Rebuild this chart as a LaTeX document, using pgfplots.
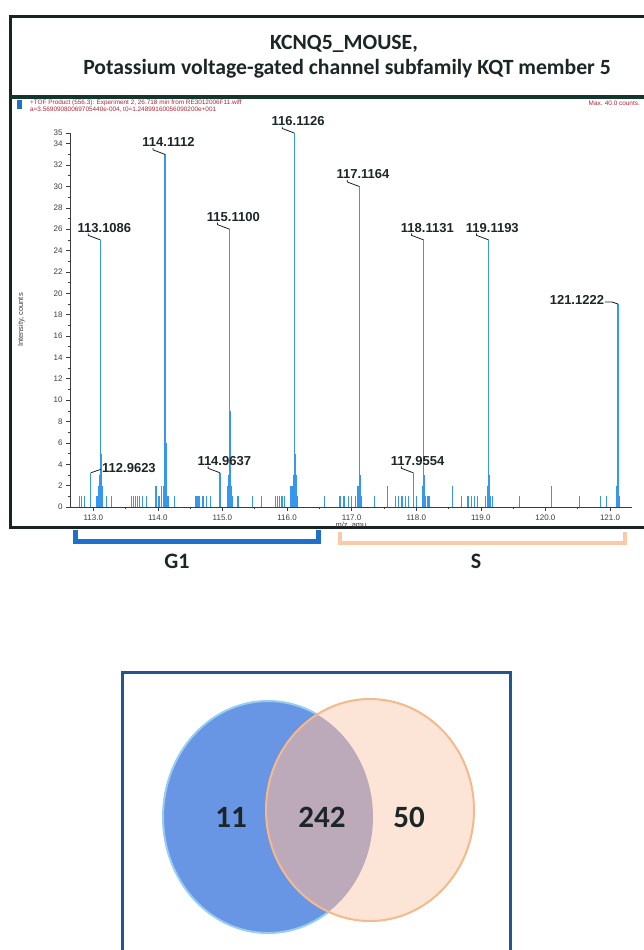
\documentclass[border=0pt]{standalone}
\usepackage{fontspec}
\setmainfont{Liberation Sans}
\newfontfamily\calibri{Carlito}
\usepackage{pgfplots}
\pgfplotsset{compat=1.18}
\usepackage{pgfplotstable}

\definecolor{specblue}{RGB}{55,150,238}
\definecolor{framedark}{RGB}{25,35,35}
\definecolor{sepgreen}{RGB}{20,55,45}
\definecolor{gone}{RGB}{30,112,200}
\definecolor{sbrk}{RGB}{248,202,168}
\definecolor{vennbox}{RGB}{35,85,145}
\definecolor{vblue}{RGB}{105,150,228}
\definecolor{vblueline}{RGB}{150,205,240}
\definecolor{vorange}{RGB}{252,229,214}
\definecolor{vorangeline}{RGB}{245,185,140}
\definecolor{voverlap}{RGB}{188,170,186}
\definecolor{redtxt}{RGB}{175,35,55}
\definecolor{txtdark}{RGB}{28,38,38}
\definecolor{tickgray}{RGB}{60,60,60}

\pgfplotstableread{
mz int
112.79 1
112.82 1
112.86 1
112.9623 3.2
113.06 1
113.08 2
113.095 3
113.1086 25
113.12 5
113.135 2
113.20 1
113.28 1
113.59 1
113.62 1
113.65 1
113.68 1
113.72 1
113.76 1
113.82 1
113.97 2
114.02 1
114.06 2
114.09 2
114.1112 33
114.125 6
114.14 1
114.16 1
114.26 1
114.59 1
114.62 1
114.65 1
114.70 1
114.75 1
114.82 1
114.9637 3.2
115.08 2
115.095 3
115.11 26
115.125 9
115.14 2
115.16 1
115.24 1
115.46 1
115.60 1
115.82 1
115.85 1
115.88 1
115.92 1
115.96 1
116.06 2
116.08 2
116.095 3
116.1126 35
116.125 5
116.14 3
116.16 1
116.58 1
116.82 1
116.88 1
116.95 1
117.00 1
117.06 1
117.10 2
117.1164 30
117.13 3
117.145 1
117.35 1
117.56 2
117.68 1
117.73 1
117.78 1
117.83 1
117.88 1
117.9554 3.2
118.00 1
118.10 2
118.1131 25
118.125 3
118.14 1
118.18 1
118.20 1
118.56 2
118.70 1
118.80 1
118.85 1
118.90 1
118.95 1
119.07 1
119.10 2
119.1193 25
119.13 3
119.15 1
119.18 1
119.60 1
120.09 2
120.53 1
120.85 1
120.94 1
121.10 1
121.11 2
121.1222 19
121.135 3
121.15 1
}\spectrum

\newcommand\peakfont{\bfseries\fontsize{13}{15}\selectfont}
\newcommand\hooklabel[3]{%
  \draw[framedark, line width=0.8pt] (axis cs:#1,#2) -- ++(-12pt,4.5pt) -- ++(0pt,2pt)
    node[anchor=base west, inner sep=0pt, xshift=-11pt, yshift=1pt, font=\peakfont, text=txtdark] {#3};}

\begin{document}
\begin{tikzpicture}
\useasboundingbox (0,0) rectangle (643pt,-950pt);

% ---------- decorative layer, pixel coordinates ----------
\begin{axis}[at={(0pt,-950pt)}, anchor=south west, scale only axis,
  width=643pt, height=950pt, xmin=0, xmax=643, ymin=0, ymax=950,
  y dir=reverse, hide axis, clip=false]
  % frames
  \draw[framedark, line width=3pt] (10,16) rectangle (670,527);
  \draw[sepgreen, line width=4.5pt] (10,97) -- (670,97);
  % title
  \node[font=\calibri\bfseries\fontsize{21.7}{26}\selectfont, text=txtdark] at (344,44) {KCNQ5\_MOUSE,};
  \node[font=\calibri\bfseries\fontsize{21.7}{26}\selectfont, text=txtdark] at (347,69) {Potassium voltage-gated channel subfamily KQT member 5};
  % instrument header
  \fill[gone] (17,100) rectangle (22,109);
  \node[anchor=west, inner sep=0pt, font=\fontsize{6.4}{7}\selectfont, text=redtxt] at (30,103) {+TOF Product (556.3): Experiment 2, 26.718 min from RE3012006F11.wiff};
  \node[anchor=west, inner sep=0pt, font=\fontsize{6.4}{7}\selectfont, text=redtxt] at (30,110) {a=3.56909080069705440e-004, t0=1.24899160056090200e+001};
  \node[anchor=east, inner sep=0pt, font=\fontsize{6.4}{7}\selectfont, text=redtxt] at (640,103) {Max. 40.0 counts.};
  % brackets
  \draw[gone, line width=5pt] (75,530) -- (75,541) -- (318,541) -- (318,530);
  \draw[sbrk, line width=4pt] (340,532) -- (340,543) -- (625,543) -- (625,532);
  \node[font=\calibri\bfseries\fontsize{22}{26}\selectfont, text=txtdark] at (177,561) {G1};
  \node[font=\calibri\bfseries\fontsize{22}{26}\selectfont, text=txtdark] at (476,561) {S};
  % Venn box
  \draw[vennbox, line width=3pt] (122,970) -- (122,672) -- (510,672) -- (510,970);
  % Venn
  \fill[vblue] (268,817) ellipse [x radius=105, y radius=116];
  \draw[vblueline, line width=2pt] (268,817) ellipse [x radius=105, y radius=116];
  \fill[vorange] (370,810) ellipse [x radius=104, y radius=111];
  \begin{scope}
    \clip (268,817) ellipse [x radius=105, y radius=116];
    \fill[voverlap] (370,810) ellipse [x radius=104, y radius=111];
  \end{scope}
  \draw[vorangeline, line width=2pt] (370,810) ellipse [x radius=104, y radius=111];
  \node[font=\calibri\bfseries\fontsize{31}{36}\selectfont, text=txtdark] at (231,817) {11};
  \node[font=\calibri\bfseries\fontsize{31}{36}\selectfont, text=txtdark] at (322,817) {242};
  \node[font=\calibri\bfseries\fontsize{31}{36}\selectfont, text=txtdark] at (409,817) {50};
\end{axis}

% ---------- spectrum ----------
\begin{axis}[at={(70pt,-507pt)}, anchor=south west, scale only axis,
  width=562pt, height=374pt,
  xmin=112.64, xmax=121.34, ymin=0, ymax=35,
  axis x line*=bottom, axis y line*=left,
  axis line style={tickgray, line width=0.8pt, -},
  xtick={113,...,121}, minor xtick={113.5,114.5,...,120.5},
  ytick={0,2,...,34,35}, minor ytick={1,3,...,33},
  tick align=outside, major tick length=4pt, minor tick length=2pt,
  tick style={tickgray, line width=0.6pt},
  xticklabel style={/pgf/number format/.cd, fixed, fixed zerofill, precision=1},
  /pgf/number format/assume math mode=true,
  every tick label/.append style={font=\fontsize{8}{9}\selectfont, text=tickgray},
  xlabel={m/z, amu}, ylabel={Intensity, counts},
  xlabel style={at={(axis description cs:0.5,0)}, anchor=north, yshift=-15pt, inner sep=0pt, font=\fontsize{7.5}{8}\selectfont, text=tickgray},
  ylabel style={at={(axis description cs:-0.087,0.5)}, anchor=center, inner sep=0pt, font=\fontsize{7.5}{8}\selectfont, text=tickgray},
  clip=false]
  \addplot[ycomb, draw=specblue, line width=1.3pt] table[x=mz, y=int] {\spectrum};
  \hooklabel{113.1086}{25}{113.1086}
  \hooklabel{114.1112}{33}{114.1112}
  \hooklabel{115.1100}{26}{115.1100}
  \hooklabel{116.1126}{35}{116.1126}
  \hooklabel{117.1164}{30}{117.1164}
  \hooklabel{118.1131}{25}{118.1131}
  \hooklabel{119.1193}{25}{119.1193}
  \hooklabel{114.9637}{3.2}{114.9637}
  \hooklabel{117.9554}{3.2}{117.9554}
  \draw[framedark, line width=0.8pt] (axis cs:121.1222,19) -- ++(-6pt,2pt) -- ++(-7pt,0pt)
    node[anchor=base east, inner sep=0pt, xshift=-0.5pt, yshift=-2.5pt, font=\peakfont, text=txtdark] {121.1222};
  \draw[framedark, line width=0.8pt] (axis cs:112.9623,3.2) -- ++(10pt,3.5pt)
    node[anchor=base west, inner sep=0pt, xshift=1pt, yshift=-3pt, font=\peakfont, text=txtdark] {112.9623};
\end{axis}
\end{tikzpicture}
\end{document}
